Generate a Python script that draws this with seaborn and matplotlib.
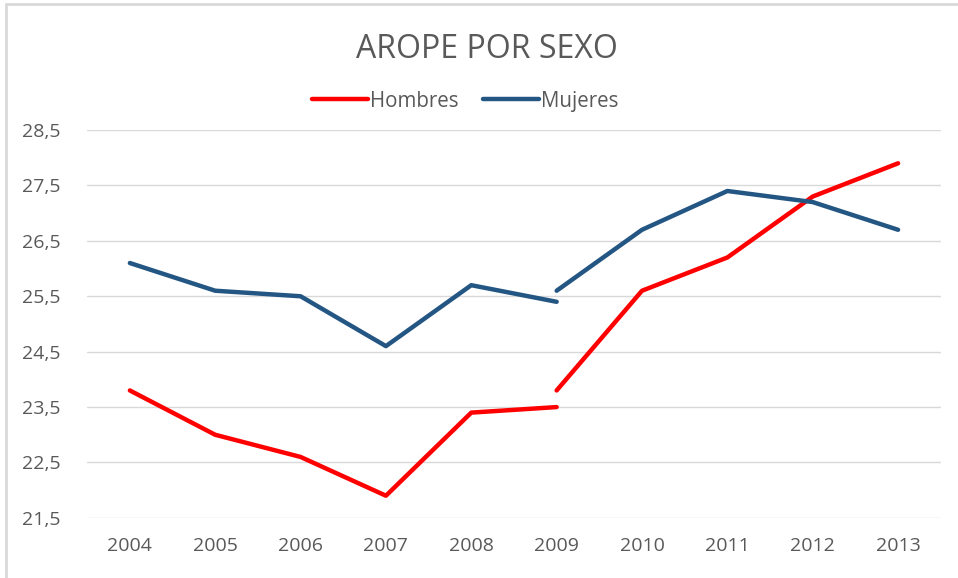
import matplotlib.pyplot as plt
import matplotlib.lines as mlines
import numpy as np
import pandas as pd
import seaborn as sns

# two series, break in methodology at 2009 (two values that year)
years_a = [2004, 2005, 2006, 2007, 2008, 2009]
years_b = [2009, 2010, 2011, 2012, 2013]
hombres_a = [23.8, 23.0, 22.6, 21.9, 23.4, 23.5]
hombres_b = [23.8, 25.6, 26.2, 27.3, 27.9]
mujeres_a = [26.1, 25.6, 25.5, 24.6, 25.7, 25.4]
mujeres_b = [25.6, 26.7, 27.4, 27.2, 26.7]

yticks = [21.5, 22.5, 23.5, 24.5, 25.5, 26.5, 27.5, 28.5]
xticks = list(range(2004, 2014))

parts = []
for sexo, tramo, xs, ys in [
    ("Hombres", "a", years_a, hombres_a),
    ("Hombres", "b", years_b, hombres_b),
    ("Mujeres", "a", years_a, mujeres_a),
    ("Mujeres", "b", years_b, mujeres_b),
]:
    parts.append(pd.DataFrame({"year": xs, "value": ys, "sexo": sexo, "tramo": sexo + tramo}))
df = pd.concat(parts, ignore_index=True)

sns.set_style("white")
plt.rcParams["font.family"] = ["Open Sans", "DejaVu Sans"]

fig = plt.figure(figsize=(9.58, 5.78), dpi=100)
ax = fig.add_axes([0.091, 0.104, 0.891, 0.671])

sns.lineplot(
    data=df, x="year", y="value", hue="sexo", units="tramo", estimator=None,
    hue_order=["Hombres", "Mujeres"], palette=["#FF0000", "#245684"],
    linewidth=3.2, solid_capstyle="round", ax=ax,
)

ax.set_xlim(2003.5, 2013.5)
ax.set_ylim(21.5, 28.5)
ax.set_yticks(yticks)
ax.set_yticklabels([f"{v:.1f}".replace(".", ",") for v in yticks])
ax.set_xticks(xticks)
ax.set_xticklabels([str(x) for x in xticks])
ax.yaxis.grid(True, color="#D9D9D9", linewidth=1)
ax.set_axisbelow(True)
for s in ax.spines.values():
    s.set_visible(False)
ax.tick_params(axis="both", length=0, labelsize=14, labelcolor="#595959")
ax.tick_params(axis="x", pad=14)
ax.tick_params(axis="y", pad=19)
ax.set_xlabel("")
ax.set_ylabel("")

sns.move_legend(
    ax, "lower center", bbox_to_anchor=(0.443, 1.0), ncol=2, frameon=False,
    title=None, fontsize=14.8, handlelength=2.7, handletextpad=0.1,
    columnspacing=1.2, labelcolor="#595959",
)

fig.text(0.508, 0.915, "AROPE POR SEXO", ha="center", va="center",
         fontsize=23, color="#595959")

# chart border (top and left edges visible)
fig.add_artist(mlines.Line2D([6 / 958, 1], [1 - 4 / 578, 1 - 4 / 578],
                             color="#D9D9D9", linewidth=2, transform=fig.transFigure))
fig.add_artist(mlines.Line2D([6 / 958, 6 / 958], [0, 1 - 4 / 578],
                             color="#D9D9D9", linewidth=2, transform=fig.transFigure))

fig.savefig("out.png", dpi=100, facecolor="white")
